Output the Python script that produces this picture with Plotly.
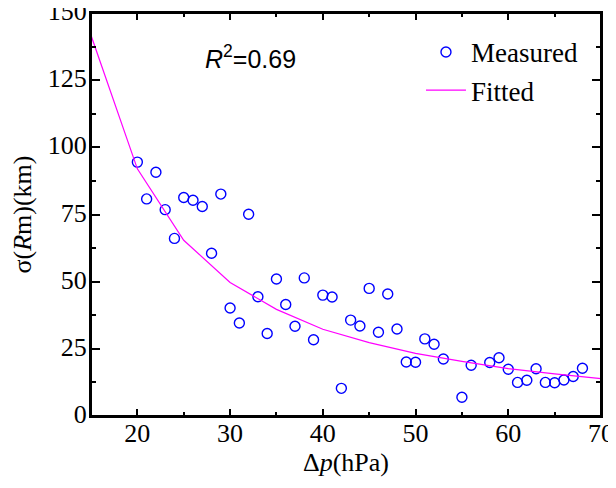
import plotly.graph_objects as go

# Measured data: Δp (hPa) and σ(Rm) (km)
measured_dp = [20, 21, 22, 23, 24, 25, 26, 27, 28, 29, 30, 31, 32, 33, 34, 35, 36, 37, 38, 39,
               40, 41, 42, 43, 44, 45, 46, 47, 48, 49, 50, 51, 52, 53, 55, 56, 58, 59, 60, 61,
               62, 63, 64, 65, 66, 67, 68]
measured_sigma = [94.5, 80.8, 90.7, 76.8, 66.1, 81.3, 80.3, 78.0, 60.6, 82.6, 40.2, 34.6, 75.1, 44.4,
                  30.7, 51.0, 41.5, 33.4, 51.4, 28.4, 45.0, 44.3, 10.3, 35.7, 33.5, 47.5, 31.2, 45.4,
                  32.4, 20.1, 20.0, 28.7, 26.7, 21.2, 7.0, 18.9, 19.9, 21.7, 17.4, 12.5, 13.3, 17.6,
                  12.5, 12.4, 13.4, 14.7, 17.8]

# Fitted curve (read at 5 hPa steps)
fitted_dp = [15, 20, 25, 30, 35, 40, 45, 50, 55, 60, 65, 70]
fitted_sigma = [141.7, 92.0, 65.4, 49.7, 39.7, 32.3, 27.3, 23.3, 20.3, 17.6, 15.7, 13.9]

x_ticks = [20, 30, 40, 50, 60, 70]
y_ticks = [0, 25, 50, 75, 100, 125, 150]

SERIF = "Liberation Serif"

fig = go.Figure()
fig.add_trace(go.Scatter(
    x=measured_dp, y=measured_sigma, mode="markers", name="Measured",
    marker=dict(symbol="circle-open", size=10, color="#0000ff", line=dict(width=1.4, color="#0000ff")),
))
fig.add_trace(go.Scatter(
    x=fitted_dp, y=fitted_sigma, mode="lines", name="Fitted",
    line=dict(color="#ff00ff", width=1.2),
))

fig.update_layout(
    width=616, height=488,
    margin=dict(l=83, r=23, t=5, b=80, autoexpand=False),
    paper_bgcolor="white", plot_bgcolor="white",
    font=dict(family=SERIF, size=26, color="black"),
    showlegend=True,
    legend=dict(x=0.647, y=0.963, xanchor="left", yanchor="top",
                bgcolor="rgba(0,0,0,0)", font=dict(family=SERIF, size=27),
                tracegroupgap=0, itemwidth=40),
    xaxis=dict(range=[15, 70], tickmode="array", tickvals=x_ticks,
               ticks="inside", ticklen=7, tickwidth=1.5, tickcolor="black",
               showline=True, linecolor="black", linewidth=2, mirror="allticks",
               showgrid=False, zeroline=False, automargin=False,
               ticklabeloverflow="allow", ticklabelstandoff=-7,
               minor=dict(dtick=5, tick0=0, ticks="inside", ticklen=4, tickwidth=1.5, tickcolor="black"),
               tickfont=dict(family=SERIF, size=26, color="black"),
               title=dict(text="Δ<i>p</i>(hPa)", font=dict(family=SERIF, size=26), standoff=5)),
    yaxis=dict(range=[0, 150], tickmode="array", tickvals=y_ticks,
               ticks="inside", ticklen=9, tickwidth=1.5, tickcolor="black",
               showline=True, linecolor="black", linewidth=2, mirror="allticks",
               showgrid=False, zeroline=False, automargin=False,
               ticklabeloverflow="allow", ticklabelstandoff=-3, ticklabelshift=-2,
               minor=dict(dtick=12.5, tick0=0, ticks="inside", ticklen=5, tickwidth=1.5, tickcolor="black"),
               tickfont=dict(family=SERIF, size=26, color="black"),
               title=dict(text="σ(<i>R</i>m)(km)", font=dict(family=SERIF, size=26), standoff=21)),
    shapes=[dict(type="rect", xref="paper", yref="paper", x0=0, x1=1, y0=0, y1=1,
                 line=dict(color="black", width=2), fillcolor="rgba(0,0,0,0)", layer="above")],
    annotations=[dict(text="<i>R</i><sup>2</sup>=0.69", x=0.312, y=0.891, xref="paper", yref="paper",
                      xanchor="center", yanchor="middle",
                      showarrow=False, font=dict(family="Liberation Sans", size=25, color="black"))],
)

fig.write_html("out.html")
